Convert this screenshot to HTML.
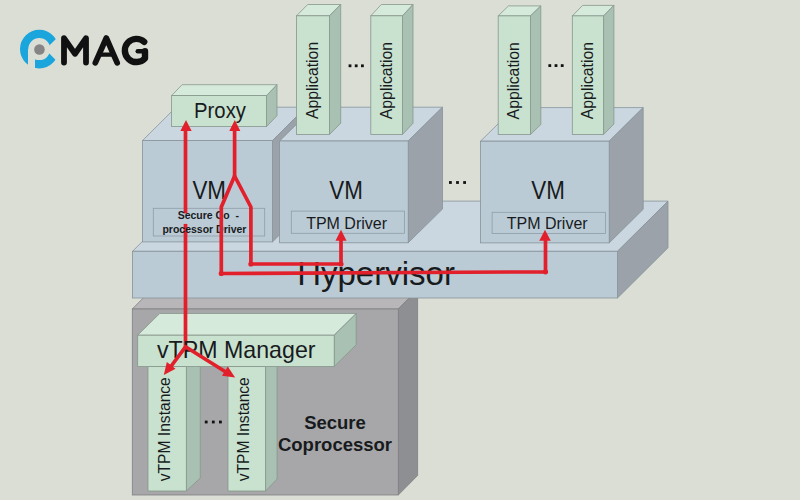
<!DOCTYPE html><html><head><meta charset="utf-8"><style>html,body{margin:0;padding:0;background:#dbded5;}svg{display:block;}</style></head><body><svg width="800" height="500" viewBox="0 0 800 500"><rect width="800" height="500" fill="#dbded5"/><g><circle cx="39.3" cy="49.1" r="15.15" fill="none" stroke="#1aa5dc" stroke-width="8.3"/><rect x="28" y="49" width="7" height="22" fill="#dbded5"/><polygon points="45.3,49.6 63,31.9 63,67.3" fill="#dbded5"/><circle cx="39.45" cy="49.45" r="5.3" fill="#858585"/></g><g fill="none" stroke="#111" stroke-linecap="round" stroke-linejoin="round"><path d="M64,62.6 L64,38.2 L75,53.8 L86,38.2 L86,62.6" stroke-width="5.8"/><path d="M95.3,62.8 L106.3,38 L117.2,62.8" stroke-width="5.7"/><path d="M100,54.6 L112.6,54.6" stroke-width="4.4"/><path d="M144.2,41.8 A11.6,11.6 0 1 0 145,58.3 L145,51.2" stroke-width="6.4"/><path d="M145,51.2 L137.8,51.2" stroke-width="4.6"/></g><polygon points="132.3,309 151.60000000000002,289.5 417.6,289.5 398.3,309" fill="#b8b6b8" stroke="#7f7f82" stroke-width="0.8"/><polygon points="398.3,309 417.6,289.5 417.6,475.5 398.3,495" fill="#8e8f92" stroke="#7f7f82" stroke-width="0.8"/><rect x="132.3" y="309" width="266.0" height="186" fill="#a7a7a9" stroke="#7f7f82" stroke-width="0.8"/><polygon points="148,366.5 162,353.5 200.3,353.5 186.3,366.5" fill="#d6eadc" stroke="#86978b" stroke-width="0.8"/><polygon points="186.3,366.5 200.3,353.5 200.3,478 186.3,491" fill="#a9c1b2" stroke="#86978b" stroke-width="0.8"/><rect x="148" y="366.5" width="38.30000000000001" height="124.5" fill="#c9e2d0" stroke="#86978b" stroke-width="0.8"/><polygon points="228,366.5 239.5,354.5 277.1,354.5 265.6,366.5" fill="#d6eadc" stroke="#86978b" stroke-width="0.8"/><polygon points="265.6,366.5 277.1,354.5 277.1,479 265.6,491" fill="#a9c1b2" stroke="#86978b" stroke-width="0.8"/><rect x="228" y="366.5" width="37.60000000000002" height="124.5" fill="#c9e2d0" stroke="#86978b" stroke-width="0.8"/><polygon points="137.7,335.2 159.7,313.5 356.2,313.5 334.2,335.2" fill="#d6eadc" stroke="#86978b" stroke-width="0.8"/><polygon points="334.2,335.2 356.2,313.5 356.2,344.8 334.2,366.5" fill="#a9c1b2" stroke="#86978b" stroke-width="0.8"/><rect x="137.7" y="335.2" width="196.5" height="31.30000000000001" fill="#c9e2d0" stroke="#86978b" stroke-width="0.8"/><polygon points="132.5,251.3 183.0,201.10000000000002 668.0,201.10000000000002 617.5,251.3" fill="#cad7e0" stroke="#87939a" stroke-width="0.8"/><polygon points="617.5,251.3 668.0,201.10000000000002 668.0,247.8 617.5,298" fill="#9ba2a9" stroke="#87939a" stroke-width="0.8"/><rect x="132.5" y="251.3" width="485.0" height="46.69999999999999" fill="#bbcbd6" stroke="#87939a" stroke-width="0.8"/><polygon points="142.5,140.6 176.0,107.19999999999999 306.0,107.19999999999999 272.5,140.6" fill="#cad7e0" stroke="#87939a" stroke-width="0.8"/><polygon points="272.5,140.6 306.0,107.19999999999999 306.0,208.5 272.5,241.9" fill="#9ba2a9" stroke="#87939a" stroke-width="0.8"/><rect x="142.5" y="140.6" width="130.0" height="101.30000000000001" fill="#bbcbd6" stroke="#87939a" stroke-width="0.8"/><polygon points="279.6,141 313.90000000000003,107.2 442.5,107.2 408.2,141" fill="#cad7e0" stroke="#87939a" stroke-width="0.8"/><polygon points="408.2,141 442.5,107.2 442.5,209.0 408.2,242.8" fill="#9ba2a9" stroke="#87939a" stroke-width="0.8"/><rect x="279.6" y="141" width="128.59999999999997" height="101.80000000000001" fill="#bbcbd6" stroke="#87939a" stroke-width="0.8"/><polygon points="480.5,141.2 514.5,107.6 643.2,107.6 609.2,141.2" fill="#cad7e0" stroke="#87939a" stroke-width="0.8"/><polygon points="609.2,141.2 643.2,107.6 643.2,209.3 609.2,242.9" fill="#9ba2a9" stroke="#87939a" stroke-width="0.8"/><rect x="480.5" y="141.2" width="128.70000000000005" height="101.70000000000002" fill="#bbcbd6" stroke="#87939a" stroke-width="0.8"/><polygon points="171.6,95.6 182.1,84.69999999999999 277.0,84.69999999999999 266.5,95.6" fill="#d6eadc" stroke="#86978b" stroke-width="0.8"/><polygon points="266.5,95.6 277.0,84.69999999999999 277.0,115.69999999999999 266.5,126.6" fill="#a9c1b2" stroke="#86978b" stroke-width="0.8"/><rect x="171.6" y="95.6" width="94.9" height="31.0" fill="#c9e2d0" stroke="#86978b" stroke-width="0.8"/><polygon points="296.5,15.8 307.7,4.5 340.7,4.5 329.5,15.8" fill="#d6eadc" stroke="#86978b" stroke-width="0.8"/><polygon points="329.5,15.8 340.7,4.5 340.7,123.2 329.5,134.5" fill="#a9c1b2" stroke="#86978b" stroke-width="0.8"/><rect x="296.5" y="15.8" width="33.0" height="118.7" fill="#c9e2d0" stroke="#86978b" stroke-width="0.8"/><polygon points="370.8,15.8 381.3,4.5 413.0,4.5 402.5,15.8" fill="#d6eadc" stroke="#86978b" stroke-width="0.8"/><polygon points="402.5,15.8 413.0,4.5 413.0,123.2 402.5,134.5" fill="#a9c1b2" stroke="#86978b" stroke-width="0.8"/><rect x="370.8" y="15.8" width="31.69999999999999" height="118.7" fill="#c9e2d0" stroke="#86978b" stroke-width="0.8"/><polygon points="498.2,15.9 508.5,5.9 540.8,5.9 530.5,15.9" fill="#d6eadc" stroke="#86978b" stroke-width="0.8"/><polygon points="530.5,15.9 540.8,5.9 540.8,124.5 530.5,134.5" fill="#a9c1b2" stroke="#86978b" stroke-width="0.8"/><rect x="498.2" y="15.9" width="32.30000000000001" height="118.6" fill="#c9e2d0" stroke="#86978b" stroke-width="0.8"/><polygon points="572.3,15.9 582.5999999999999,5.4 613.9,5.4 603.6,15.9" fill="#d6eadc" stroke="#86978b" stroke-width="0.8"/><polygon points="603.6,15.9 613.9,5.4 613.9,124.0 603.6,134.5" fill="#a9c1b2" stroke="#86978b" stroke-width="0.8"/><rect x="572.3" y="15.9" width="31.300000000000068" height="118.6" fill="#c9e2d0" stroke="#86978b" stroke-width="0.8"/><rect x="153.3" y="208.3" width="111.4" height="27.7" fill="none" stroke="#8e9ca5" stroke-width="0.8"/><rect x="291.3" y="211.1" width="113.3" height="22.2" fill="none" stroke="#8e9ca5" stroke-width="0.8"/><rect x="492.1" y="212.3" width="113.5" height="21.1" fill="none" stroke="#8e9ca5" stroke-width="0.8"/><rect x="348.6" y="64.39999999999999" width="2.8" height="2.8" fill="#111"/><rect x="354.8" y="64.39999999999999" width="2.8" height="2.8" fill="#111"/><rect x="361.0" y="64.39999999999999" width="2.8" height="2.8" fill="#111"/><rect x="548.4" y="64.19999999999999" width="2.8" height="2.8" fill="#111"/><rect x="554.6" y="64.19999999999999" width="2.8" height="2.8" fill="#111"/><rect x="560.8" y="64.19999999999999" width="2.8" height="2.8" fill="#111"/><rect x="449.0" y="181.1" width="2.8" height="2.8" fill="#111"/><rect x="456.1" y="181.1" width="2.8" height="2.8" fill="#111"/><rect x="463.2" y="181.1" width="2.8" height="2.8" fill="#111"/><rect x="204.79999999999998" y="420.6" width="2.8" height="2.8" fill="#111"/><rect x="211.89999999999998" y="420.6" width="2.8" height="2.8" fill="#111"/><rect x="218.99999999999997" y="420.6" width="2.8" height="2.8" fill="#111"/><path d="M185.5,130 L185.5,346.8" fill="none" stroke="#e2202b" stroke-width="3.7" stroke-linejoin="round" stroke-linecap="round"/><rect x="180" y="213.4" width="12" height="10.5" fill="#bbcbd6"/><text transform="translate(220,118.2) scale(1,1.07)" font-family="Liberation Sans, sans-serif" font-size="20.3" font-weight="normal" text-anchor="middle" fill="#181b1d">Proxy</text><text transform="translate(209.2,199.2) scale(1,1.12)" font-family="Liberation Sans, sans-serif" font-size="22.4" font-weight="normal" text-anchor="middle" fill="#181b1d">VM</text><text transform="translate(346.1,199.2) scale(1,1.12)" font-family="Liberation Sans, sans-serif" font-size="22.4" font-weight="normal" text-anchor="middle" fill="#181b1d">VM</text><text transform="translate(548,199.4) scale(1,1.12)" font-family="Liberation Sans, sans-serif" font-size="22.4" font-weight="normal" text-anchor="middle" fill="#181b1d">VM</text><text x="208.3" y="219.2" font-family="Liberation Sans, sans-serif" font-size="10.5" font-weight="bold" text-anchor="middle" fill="#181b1d">Secure Co&#160;&#160;-</text><text x="204.4" y="232.7" font-family="Liberation Sans, sans-serif" font-size="10.5" font-weight="bold" text-anchor="middle" fill="#181b1d">processor Driver</text><text x="346.6" y="228.5" font-family="Liberation Sans, sans-serif" font-size="16" font-weight="normal" text-anchor="middle" fill="#181b1d">TPM Driver</text><text x="547.2" y="229.3" font-family="Liberation Sans, sans-serif" font-size="16" font-weight="normal" text-anchor="middle" fill="#181b1d">TPM Driver</text><text x="297.2" y="285.2" font-family="Liberation Sans, sans-serif" font-size="33" font-weight="normal" text-anchor="start" fill="#181b1d">Hypervisor</text><text x="157" y="357.6" font-family="Liberation Sans, sans-serif" font-size="23.2" font-weight="normal" text-anchor="start" fill="#181b1d">vTPM Manager</text><text x="335" y="428.8" font-family="Liberation Sans, sans-serif" font-size="18.5" font-weight="bold" text-anchor="middle" fill="#181b1d">Secure</text><text x="335" y="451.4" font-family="Liberation Sans, sans-serif" font-size="18.5" font-weight="bold" text-anchor="middle" fill="#181b1d">Coprocessor</text><text transform="translate(317.9,119.1) rotate(-90) scale(1,1)" font-family="Liberation Sans, sans-serif" font-size="15.8" font-weight="normal" text-anchor="start" fill="#181b1d">Application</text><text transform="translate(392.3,119.2) rotate(-90) scale(1,1)" font-family="Liberation Sans, sans-serif" font-size="15.8" font-weight="normal" text-anchor="start" fill="#181b1d">Application</text><text transform="translate(519.4,119.4) rotate(-90) scale(1,1)" font-family="Liberation Sans, sans-serif" font-size="15.8" font-weight="normal" text-anchor="start" fill="#181b1d">Application</text><text transform="translate(593.2,119.2) rotate(-90) scale(1,1)" font-family="Liberation Sans, sans-serif" font-size="15.8" font-weight="normal" text-anchor="start" fill="#181b1d">Application</text><text transform="translate(169.6,481.2) rotate(-90) scale(1,1)" font-family="Liberation Sans, sans-serif" font-size="15.6" font-weight="normal" text-anchor="start" fill="#181b1d">vTPM Instance</text><text transform="translate(249.4,481.2) rotate(-90) scale(1,1)" font-family="Liberation Sans, sans-serif" font-size="15.6" font-weight="normal" text-anchor="start" fill="#181b1d">vTPM Instance</text><path d="M185.5,346.8 L169,369 M185.5,346.8 L229,374" fill="none" stroke="#e2202b" stroke-width="3.7" stroke-linejoin="round" stroke-linecap="round"/><path d="M234.6,130 L234.6,176 L221.3,207 L221.3,273.5 L545.5,271.8 L545.5,240" fill="none" stroke="#e2202b" stroke-width="3.7" stroke-linejoin="round" stroke-linecap="round"/><path d="M234.6,176 L250.9,207 L250.9,264 L341,264 L341,240" fill="none" stroke="#e2202b" stroke-width="3.7" stroke-linejoin="round" stroke-linecap="round"/><circle cx="221.3" cy="273.5" r="2.6" fill="#e2202b"/><circle cx="250.9" cy="264" r="2.6" fill="#e2202b"/><circle cx="341" cy="264" r="2.6" fill="#e2202b"/><circle cx="545.5" cy="271.8" r="2.6" fill="#e2202b"/><polygon points="186,120 191.65,131.0 180.35,131.0" fill="#e2202b"/><polygon points="234.8,120 240.3,131.0 229.3,131.0" fill="#e2202b"/><polygon points="341,229.8 346.5,240.8 335.5,240.8" fill="#e2202b"/><polygon points="545,229.7 550.75,240.7 539.25,240.7" fill="#e2202b"/><polygon points="163.8,374.9 166.81000459852217,362.04737877641776 175.50119956725823,368.79001401906714" fill="#e2202b"/><polygon points="235.1,377.5 222.00324024308588,375.84927777331416 227.8009406690017,366.5011940246876" fill="#e2202b"/></svg></body></html>
